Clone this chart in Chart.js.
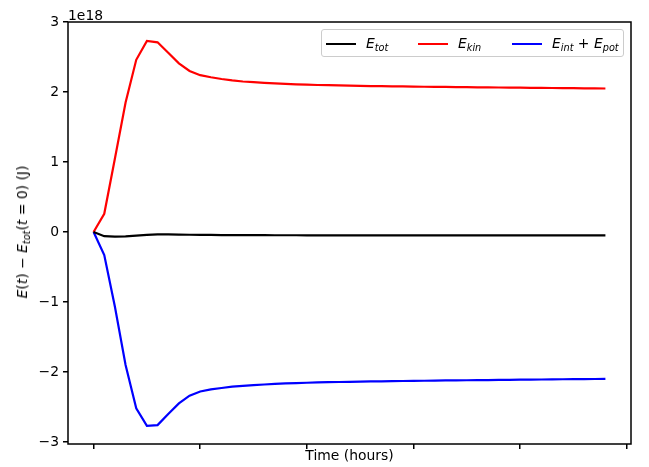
<!DOCTYPE html>
<html>
<head>
<meta charset="utf-8">
<script src="https://cdn.jsdelivr.net/npm/chart.js@4/dist/chart.umd.min.js"></script>
<style>
	body { margin: 0; background: #fff; }
	#wrap { position: relative; width: 649px; height: 467px; font-family: "DejaVu Sans", sans-serif; }
	#legend {
		position: absolute; left: 321px; top: 29px; width: 301px; height: 26px;
		border: 1px solid #cccccc; border-radius: 3px; background: rgba(255,255,255,0.8);
		font-size: 13.9px; color: #000;
	}
	.item { position: absolute; top: 3px; height: 20px; line-height: 20px; white-space: nowrap; }
	.swatch { display: inline-block; width: 30px; height: 2.5px; vertical-align: middle; margin-right: 10px; }
	sub { font-size: 70%; vertical-align: -3px; line-height: 0; }
	#ytitle {
		position: absolute; left: 22px; top: 232px; white-space: nowrap;
		transform: translate(-50%, -50%) rotate(-90deg); font-size: 13.9px; color: #000;
	}
</style>
</head>
<body>
<div id="wrap">
	<canvas id="chart" width="649" height="467"></canvas>
	<div id="legend">
		<div class="item" style="left:4px"><span class="swatch" style="background:#000"></span><i>E</i><sub><i>tot</i></sub></div>
		<div class="item" style="left:96px"><span class="swatch" style="background:#ff0000"></span><i>E</i><sub><i>kin</i></sub></div>
		<div class="item" style="left:190px"><span class="swatch" style="background:#0000ff"></span><i>E</i><sub><i>int</i></sub> + <i>E</i><sub><i>pot</i></sub></div>
	</div>
	<div id="ytitle"><i>E</i>(<i>t</i>) − <i>E</i><sub><i>tot</i></sub>(<i>t</i> = 0) (J)</div>
</div>
<script>
// time axis (ticks are unlabelled in the original)
const timeHours = [0.0, 0.1, 0.2, 0.3, 0.4, 0.5, 0.6, 0.7, 0.8, 0.9,
	1.0, 1.1, 1.2, 1.3, 1.4, 1.5, 1.6, 1.7, 1.8, 1.9,
	2.0, 2.1, 2.2, 2.3, 2.4, 2.5, 2.6, 2.7, 2.8, 2.9,
	3.0, 3.1, 3.2, 3.3, 3.4, 3.5, 3.6, 3.7, 3.8, 3.9,
	4.0, 4.1, 4.2, 4.3, 4.4, 4.5, 4.6, 4.7, 4.8]
const xTicks = [0, 1, 2, 3, 4, 5]

// energies in units of 1e18 J
const eTot = [0, -0.060, -0.066, -0.062, -0.052, -0.042, -0.036, -0.035, -0.038, -0.040,
	-0.042, -0.043, -0.044, -0.045, -0.045, -0.046, -0.046, -0.047, -0.047, -0.047,
	-0.048, -0.048, -0.048, -0.048, -0.049, -0.049, -0.049, -0.049, -0.049, -0.050,
	-0.050, -0.050, -0.050, -0.050, -0.050, -0.050, -0.050, -0.050, -0.050, -0.050,
	-0.050, -0.050, -0.050, -0.050, -0.050, -0.050, -0.050, -0.050, -0.050]
const eKin = [0, 0.26, 1.05, 1.85, 2.46, 2.73, 2.71, 2.56, 2.41, 2.30,
	2.24, 2.21, 2.185, 2.165, 2.15, 2.14, 2.13, 2.122, 2.115, 2.11,
	2.105, 2.10, 2.097, 2.094, 2.091, 2.088, 2.085, 2.083, 2.081, 2.079,
	2.077, 2.075, 2.073, 2.072, 2.070, 2.069, 2.067, 2.066, 2.064, 2.063,
	2.061, 2.060, 2.058, 2.057, 2.055, 2.054, 2.052, 2.051, 2.050]
const eIntPot = [0, -0.33, -1.07, -1.90, -2.52, -2.77, -2.76, -2.60, -2.45, -2.34,
	-2.28, -2.25, -2.23, -2.21, -2.20, -2.19, -2.18, -2.172, -2.165, -2.16,
	-2.155, -2.15, -2.147, -2.144, -2.141, -2.138, -2.136, -2.134, -2.132, -2.130,
	-2.128, -2.126, -2.124, -2.122, -2.120, -2.119, -2.117, -2.116, -2.114, -2.113,
	-2.111, -2.110, -2.108, -2.107, -2.105, -2.104, -2.102, -2.101, -2.100]
const yTicks = [-3, -2, -1, 0, 1, 2, 3]

const FONT = "'DejaVu Sans', sans-serif"

function series(vals, color) {
	return {
		data: timeHours.map((t, i) => ({ x: t, y: vals[i] })),
		borderColor: color,
		borderWidth: 2.2,
		pointRadius: 0,
		tension: 0,
		fill: false,
	}
}

// box round the plot plus the matplotlib style "1e18" offset label
const frame = {
	id: 'frame',
	afterDatasetsDraw(chart) {
		const a = chart.chartArea, ctx = chart.ctx
		ctx.save()
		ctx.strokeStyle = '#000'
		ctx.lineWidth = 1.5
		ctx.strokeRect(a.left, a.top, a.right - a.left, a.bottom - a.top)
		ctx.fillStyle = '#000'
		ctx.font = '13.9px ' + FONT
		ctx.textBaseline = 'alphabetic'
		ctx.fillText('1e18', a.left, a.top - 2)
		ctx.restore()
	}
}

new Chart(document.getElementById('chart'), {
	type: 'line',
	data: {
		datasets: [
			series(eTot, '#000000'),
			series(eKin, '#ff0000'),
			series(eIntPot, '#0000ff'),
		]
	},
	options: {
		responsive: false,
		animation: false,
		layout: { padding: { top: 22, right: 18, left: 0, bottom: 0 } },
		plugins: { legend: { display: false }, tooltip: { enabled: false } },
		scales: {
			x: {
				type: 'linear',
				min: -0.24,
				max: 5.04,
				afterBuildTicks: s => { s.ticks = xTicks.map(v => ({ value: v })) },
				afterFit: s => { s.height = 23 },
				ticks: { callback: () => '', padding: 0 },
				grid: { drawOnChartArea: false, drawTicks: true, tickLength: 5, color: '#000', lineWidth: 1.5 },
				border: { display: false },
				title: { display: true, text: 'Time (hours)', color: '#000', font: { family: FONT, size: 13.9 }, padding: { top: 0, bottom: 2 } },
			},
			y: {
				min: -3.03,
				max: 3.0,
				afterBuildTicks: s => { s.ticks = yTicks.map(v => ({ value: v })) },
				afterFit: s => { s.width = 68 },
				ticks: {
					color: '#000',
					padding: 4,
					font: { family: FONT, size: 13.9 },
					callback: v => String(v).replace('-', '\u2212'),
				},
				grid: { drawOnChartArea: false, drawTicks: true, tickLength: 5, color: '#000', lineWidth: 1.5 },
				border: { display: false },
			}
		}
	},
	plugins: [frame]
})
</script>
</body>
</html>
